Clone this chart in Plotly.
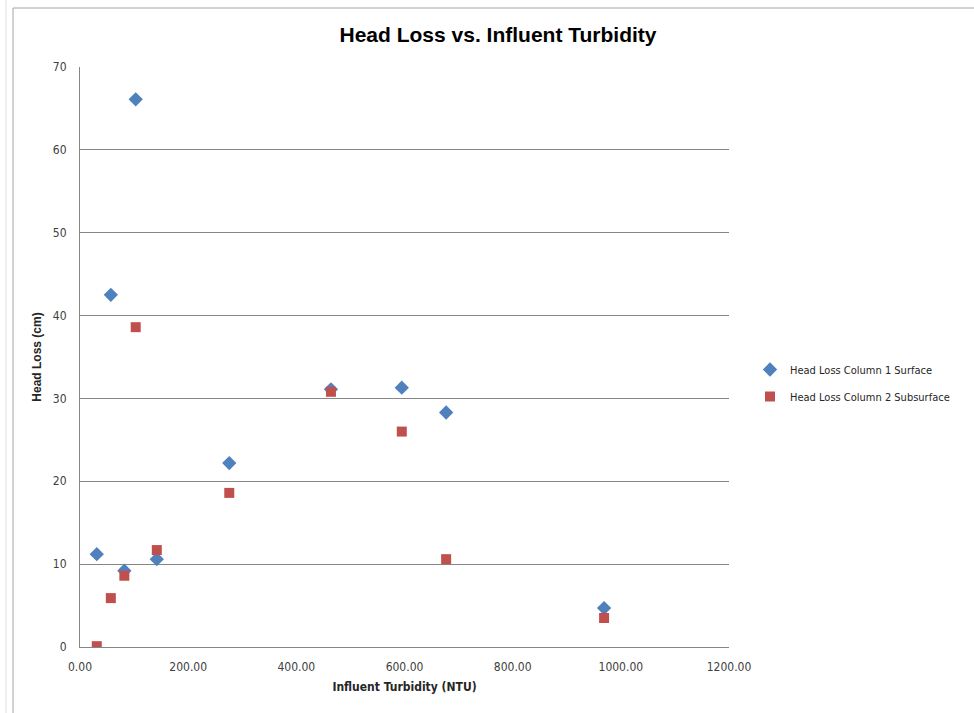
import plotly.graph_objects as go

turbidity = [31, 57, 82, 103, 142, 276, 464, 595, 677, 969]
col1_surface = [11.2, 42.5, 9.2, 66.1, 10.6, 22.2, 31.1, 31.3, 28.3, 4.7]
col2_subsurface = [0.1, 5.9, 8.6, 38.6, 11.7, 18.6, 30.8, 26.0, 10.6, 3.5]
x_ticks = [0, 200, 400, 600, 800, 1000, 1200]
y_ticks = [0, 10, 20, 30, 40, 50, 60, 70]

W, H = 974, 713
L, R, T, B = 80, 729, 67, 647

fig = go.Figure()
fig.add_trace(go.Scatter(
    x=turbidity, y=col1_surface, mode="markers",
    name="Head Loss Column 1 Surface", legendgroup="a",
    marker=dict(symbol="diamond", size=11, color="#4F81BD", line=dict(width=0)),
))
fig.add_trace(go.Scatter(
    x=turbidity, y=col2_subsurface, mode="markers",
    name="Head Loss Column 2 Subsurface", legendgroup="b",
    marker=dict(symbol="square", size=10, color="#C0504D", line=dict(width=0)),
))

font_family = "Liberation Sans Narrow, Liberation Sans, Arial, sans-serif"
tick_family = "DejaVu Sans Condensed, DejaVu Sans, sans-serif"

fig.update_layout(
    width=W, height=H,
    margin=dict(l=L, r=W - R, t=T, b=H - B, autoexpand=False),
    paper_bgcolor="white", plot_bgcolor="white",
    font=dict(family=font_family, size=11, color="#404040"),
    title=dict(
        text="<b>Head Loss vs. Influent Turbidity</b>",
        x=(332 + 664) / 2 / W, xanchor="center",
        y=1 - 35 / H, yanchor="middle",
        font=dict(size=21, color="black", family=font_family),
    ),
    xaxis=dict(
        range=[0, 1200], tickvals=x_ticks,
        ticktext=[f"{v:.2f}" for v in x_ticks],
        showgrid=False, zeroline=False,
        showline=True, linecolor="#868686", linewidth=1,
        ticks="outside", ticklen=9, tickcolor="rgba(0,0,0,0)",
        tickfont=dict(size=12, color="#404040", family=tick_family),
        title=dict(text="<b>Influent Turbidity (NTU)</b>",
                   font=dict(size=12, color="#262626", family=tick_family), standoff=9),
        fixedrange=True,
    ),
    yaxis=dict(
        range=[0, 70], tickvals=y_ticks,
        showgrid=True, gridcolor="#868686", gridwidth=1,
        zeroline=False,
        showline=True, linecolor="#868686", linewidth=1,
        ticks="outside", ticklen=10, tickcolor="rgba(0,0,0,0)",
        tickfont=dict(size=12, color="#404040", family=tick_family),
        title=dict(text="<b>Head Loss (cm)</b>",
                   font=dict(size=12, color="#262626", family=font_family), standoff=8),
        fixedrange=True,
    ),
    legend=dict(
        xref="container", yref="container",
        x=750 / W, xanchor="left",
        y=1 - 355 / H, yanchor="top",
        font=dict(size=11, color="#262626", family=tick_family),
        bgcolor="rgba(0,0,0,0)",
        tracegroupgap=8, itemwidth=30,
    ),
    showlegend=True,
)

def px_to_paper_x(px):
    return (px - L) / (R - L)

def px_to_paper_y(py):
    return (B - py) / (B - T)

fig.add_shape(type="line", xref="paper", yref="paper",
              x0=px_to_paper_x(13), x1=px_to_paper_x(990),
              y0=px_to_paper_y(8), y1=px_to_paper_y(8),
              line=dict(color="#A6A6A6", width=1))
fig.add_shape(type="line", xref="paper", yref="paper",
              x0=px_to_paper_x(13), x1=px_to_paper_x(13),
              y0=px_to_paper_y(8), y1=px_to_paper_y(730),
              line=dict(color="#A6A6A6", width=1))
fig.add_shape(type="line", xref="paper", yref="paper",
              x0=px_to_paper_x(6), x1=px_to_paper_x(6),
              y0=px_to_paper_y(0), y1=px_to_paper_y(730),
              line=dict(color="#E0E0E0", width=1))

fig.write_html("out.html")
